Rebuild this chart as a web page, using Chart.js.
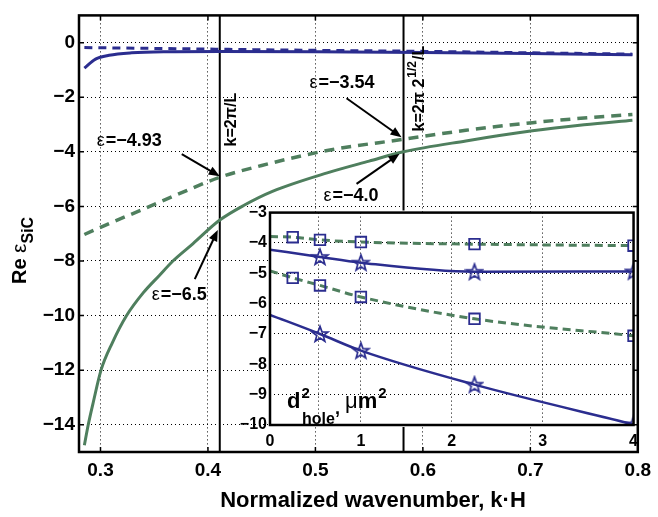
<!DOCTYPE html>
<html>
<head>
<meta charset="utf-8">
<script src="https://cdn.jsdelivr.net/npm/chart.js@4.4.1/dist/chart.umd.min.js"></script>
<style>
  body { margin: 0; background: #fff; }
  #wrap { position: relative; width: 658px; height: 517px; }
  #mainChart { position: absolute; left: 0; top: 0; }
  #insetChart { position: absolute; left: 230px; top: 200px; visibility: hidden; }
</style>
</head>
<body>
<div id="wrap">
  <canvas id="mainChart" width="658" height="517"></canvas>
  <canvas id="insetChart" width="415" height="250"></canvas>
</div>
<script>
// main plot: Re eps_SiC vs normalized wavenumber
const kTicks = [0.3, 0.4, 0.5, 0.6, 0.7, 0.8];
const epsTicks = [0, -2, -4, -6, -8, -10, -12, -14];

const kBlueSolid = [0.285, 0.2954, 0.308, 0.329, 0.36, 0.411, 0.5, 0.6, 0.7, 0.795];
const epsBlueSolid = [-0.93, -0.6, -0.46, -0.37, -0.33, -0.32, -0.33, -0.36, -0.40, -0.44];

const kBlueDashed = [0.285, 0.35, 0.411, 0.5, 0.582, 0.7, 0.795];
const epsBlueDashed = [-0.18, -0.21, -0.24, -0.28, -0.31, -0.37, -0.42];

const kGreenDashed = [0.285, 0.309, 0.34, 0.37, 0.411, 0.45, 0.511, 0.582, 0.64, 0.702, 0.75, 0.795];
const epsGreenDashed = [-7.03, -6.61, -6.1, -5.59, -4.93, -4.5, -3.95, -3.54, -3.21, -2.93, -2.76, -2.63];

const kGreenSolid = [0.285, 0.2886, 0.2935, 0.3005, 0.311, 0.3243, 0.3397, 0.355, 0.3674, 0.3859, 0.411, 0.434, 0.46, 0.511, 0.55, 0.582, 0.64, 0.702, 0.75, 0.795];
const epsGreenSolid = [-14.75, -14.0, -13.14, -12.0, -11.0, -10.0, -9.17, -8.52, -8.0, -7.37, -6.5, -5.95, -5.45, -4.77, -4.34, -4.0, -3.6, -3.23, -3.01, -2.84];

// vertical markers k = 2pi/L and k = 2pi*sqrt(2)/L
const kLines = [0.411, 0.582];

// arrow annotations
const annoK = [0.411, 0.582, 0.582, 0.411];
const annoEps = [-4.93, -3.54, -4.0, -6.5];
const annoText = ['=\u22124.93', '=\u22123.54', '=\u22124.0', '=\u22126.5'];

// inset: eps vs d_hole^2
const insetXTicks = [0, 1, 2, 3, 4];
const insetYTicks = [-3, -4, -5, -6, -7, -8, -9, -10];
const insetExtraGrid = [0.53];

const dStarUpper = [0, 0.55, 1.0, 2.25, 4.0];
const epsStarUpper = [-4.22, -4.46, -4.65, -4.95, -4.94];
const dStarLower = [0, 0.55, 1.0, 2.25, 4.0];
const epsStarLower = [-6.37, -7.0, -7.55, -8.67, -9.98];
const dSqUpper = [0, 0.25, 0.55, 1.0, 2.25, 4.0];
const epsSqUpper = [-3.79, -3.81, -3.9, -3.97, -4.04, -4.09];
const dSqLower = [0, 0.25, 0.55, 1.0, 2.25, 4.0];
const epsSqLower = [-4.92, -5.15, -5.4, -5.78, -6.5, -7.06];

const BLUE = '#2b2d8f';
const GREEN = '#4f7f5e';
const FONT = '"Liberation Sans", Arial, Helvetica, sans-serif';

function pts(xs, ys) { return xs.map((x, i) => ({ x: x, y: ys[i] })); }
function minus(v) { return String(v).replace('-', '\u2212'); }

function drawRich(ctx, x, y, parts) {
  parts.forEach(p => {
    ctx.font = p.font;
    ctx.fillText(p.t, x, y + (p.dy || 0));
    x += ctx.measureText(p.t).width + (p.gap || 0);
  });
}

function drawArrow(ctx, x0, y0, x1, y1) {
  const a = Math.atan2(y1 - y0, x1 - x0);
  const len = 11, w = 4.5;
  ctx.beginPath();
  ctx.moveTo(x0, y0);
  ctx.lineTo(x1 - len * 0.8 * Math.cos(a), y1 - len * 0.8 * Math.sin(a));
  ctx.stroke();
  ctx.beginPath();
  ctx.moveTo(x1, y1);
  ctx.lineTo(x1 - len * Math.cos(a) + w * Math.sin(a), y1 - len * Math.sin(a) - w * Math.cos(a));
  ctx.lineTo(x1 - len * Math.cos(a) - w * Math.sin(a), y1 - len * Math.sin(a) + w * Math.cos(a));
  ctx.closePath();
  ctx.fill();
}

function drawBox(ctx, area, lw) {
  ctx.save();
  ctx.strokeStyle = '#000';
  ctx.lineWidth = lw;
  ctx.strokeRect(area.left, area.top, area.right - area.left, area.bottom - area.top);
  ctx.restore();
}

// ---------- inset chart (rendered first, then painted onto the main canvas) ----------
function starImage() {
  const c = document.createElement('canvas');
  c.width = 20; c.height = 20;
  const g = c.getContext('2d');
  g.strokeStyle = BLUE;
  g.lineWidth = 1.7;
  g.beginPath();
  for (let i = 0; i < 10; i++) {
    const r = i % 2 === 0 ? 8.2 : 3.4;
    const ang = -Math.PI / 2 + i * Math.PI / 5;
    const px = 10 + r * Math.cos(ang), py = 10.6 + r * Math.sin(ang);
    if (i === 0) g.moveTo(px, py); else g.lineTo(px, py);
  }
  g.closePath();
  g.stroke();
  return c;
}
const STAR = starImage();

const insetPlugin = {
  id: 'insetDecor',
  beforeDraw(chart) {
    const { ctx, chartArea: a } = chart;
    ctx.save();
    ctx.fillStyle = '#fff';
    ctx.fillRect(a.left, a.top, a.right - a.left, a.bottom - a.top);
    ctx.restore();
  },
  afterDraw(chart) {
    const { ctx, chartArea: a } = chart;
    drawBox(ctx, a, 2.5);
    ctx.save();
    ctx.fillStyle = '#000';
    ctx.textAlign = 'left';
    ctx.textBaseline = 'alphabetic';
    const x0 = a.left + 17, yb = a.bottom - 17;
    drawRich(ctx, x0, yb, [
      { t: 'd', font: 'bold 22px ' + FONT, gap: 1 },
      { t: '2', font: 'bold 15px ' + FONT, dy: -10 }
    ]);
    drawRich(ctx, x0 + 15, yb + 16, [
      { t: 'hole', font: 'bold 16px ' + FONT },
      { t: ',', font: 'bold 18px ' + FONT, dy: -10 }
    ]);
    drawRich(ctx, x0 + 58, yb, [
      { t: '\u03bc', font: '22px ' + FONT },
      { t: 'm', font: 'bold 22px ' + FONT, gap: 1 },
      { t: '2', font: 'bold 15px ' + FONT, dy: -10 }
    ]);
    ctx.restore();
  }
};

const markerRadius = ctx => (ctx.dataIndex === 0 ? 0 : 7.5);
const insetCanvas = document.getElementById('insetChart');

const insetChart = new Chart(insetCanvas, {
  type: 'line',
  data: {
    datasets: [
      { data: pts(dSqUpper, epsSqUpper), borderColor: GREEN, borderWidth: 3, borderDash: [8, 5],
        pointStyle: 'rect', pointRadius: markerRadius, pointBorderColor: BLUE, pointBorderWidth: 1.8,
        pointBackgroundColor: 'rgba(255,255,255,0)' },
      { data: pts(dSqLower, epsSqLower), borderColor: GREEN, borderWidth: 3, borderDash: [8, 5],
        pointStyle: 'rect', pointRadius: markerRadius, pointBorderColor: BLUE, pointBorderWidth: 1.8,
        pointBackgroundColor: 'rgba(255,255,255,0)' },
      { data: pts(dStarUpper, epsStarUpper), borderColor: BLUE, borderWidth: 2.5,
        pointStyle: STAR, pointRadius: markerRadius },
      { data: pts(dStarLower, epsStarLower), borderColor: BLUE, borderWidth: 2.5,
        pointStyle: STAR, pointRadius: markerRadius }
    ]
  },
  options: {
    responsive: false,
    animation: false,
    devicePixelRatio: 1,
    layout: { padding: { left: 0, right: 10, top: 7, bottom: 0 } },
    elements: { line: { cubicInterpolationMode: 'monotone', fill: false } },
    plugins: { legend: { display: false }, tooltip: { enabled: false } },
    scales: {
      x: {
        type: 'linear', min: 0, max: 4,
        afterBuildTicks: s => { s.ticks = insetXTicks.concat(insetExtraGrid).sort((p, q) => p - q).map(v => ({ value: v })); },
        afterFit: s => { s.height = 25; },
        grid: { color: '#000', lineWidth: 1, drawTicks: false },
        border: { display: false, dash: [1, 3] },
        ticks: { color: '#000', padding: 7, maxRotation: 0, autoSkip: false,
          font: { family: FONT, size: 16, weight: 'bold' },
          callback: v => (insetXTicks.includes(v) ? String(v) : '') }
      },
      y: {
        type: 'linear', min: -10, max: -3,
        afterBuildTicks: s => { s.ticks = insetYTicks.map(v => ({ value: v })); },
        afterFit: s => { s.width = 40; },
        grid: { color: '#000', lineWidth: 1, drawTicks: false },
        border: { display: false, dash: [1, 3] },
        ticks: { color: '#000', padding: 3, font: { family: FONT, size: 16, weight: 'bold' },
          callback: v => minus(v) }
      }
    }
  },
  plugins: [insetPlugin]
});

// page rectangle of the inset plot area
function insetRect() {
  const ia = insetChart.chartArea;
  const ox = insetCanvas.offsetLeft, oy = insetCanvas.offsetTop;
  return { left: ox + ia.left, top: oy + ia.top, right: ox + ia.right, bottom: oy + ia.bottom };
}

// ---------- main chart ----------
// pixel offsets for the arrow tips, tails and labels
const annoLayout = [
  { tip: [0, -1], tail: [-38, -23], text: [-123, -36] },
  { tip: [-2, -2], tail: [-57, -41], text: [-94, -56] },
  { tip: [-4, 2], tail: [-47, 32], text: [-80, 44] },
  { tip: [-2, 10], tail: [-25, 59], text: [-68, 75] }
];

const mainPlugin = {
  id: 'mainDecor',
  beforeDatasetsDraw(chart) {
    const { ctx, chartArea: a, scales: { x } } = chart;
    const r = insetRect();
    ctx.save();
    // keep the marker lines out of the inset panel
    ctx.beginPath();
    ctx.rect(0, 0, chart.width, chart.height);
    ctx.rect(r.left - 2, r.top - 2, r.right - r.left + 4, r.bottom - r.top + 4);
    ctx.clip('evenodd');
    ctx.strokeStyle = '#000';
    ctx.lineWidth = 2;
    kLines.forEach(k => {
      const px = x.getPixelForValue(k);
      ctx.beginPath();
      ctx.moveTo(px, a.top);
      ctx.lineTo(px, a.bottom);
      ctx.stroke();
    });
    ctx.restore();
  },
  afterDraw(chart) {
    const { ctx, chartArea: a, scales: { x, y } } = chart;
    drawBox(ctx, a, 2.5);
    ctx.save();
    ctx.strokeStyle = '#000';
    ctx.lineWidth = 1.5;
    kTicks.forEach(v => {
      const px = x.getPixelForValue(v);
      ctx.beginPath();
      ctx.moveTo(px, a.bottom); ctx.lineTo(px, a.bottom - 5);
      ctx.moveTo(px, a.top); ctx.lineTo(px, a.top + 5);
      ctx.stroke();
    });
    epsTicks.forEach(v => {
      const py = y.getPixelForValue(v);
      ctx.beginPath();
      ctx.moveTo(a.left, py); ctx.lineTo(a.left + 5, py);
      ctx.moveTo(a.right, py); ctx.lineTo(a.right - 5, py);
      ctx.stroke();
    });

    // arrows with epsilon labels
    ctx.fillStyle = '#000';
    ctx.lineWidth = 2;
    ctx.textBaseline = 'middle';
    ctx.textAlign = 'left';
    annoK.forEach((k, i) => {
      const px = x.getPixelForValue(k), py = y.getPixelForValue(annoEps[i]);
      const L = annoLayout[i];
      drawArrow(ctx, px + L.tail[0], py + L.tail[1], px + L.tip[0], py + L.tip[1]);
      drawRich(ctx, px + L.text[0], py + L.text[1], [
        { t: '\u03b5', font: '18px ' + FONT, gap: 1 },
        { t: annoText[i], font: 'bold 18px ' + FONT }
      ]);
    });

    // rotated labels of the vertical lines
    ctx.textBaseline = 'alphabetic';
    const k1 = x.getPixelForValue(kLines[0]);
    ctx.save();
    ctx.translate(k1 + 16, a.top + 131);
    ctx.rotate(-Math.PI / 2);
    drawRich(ctx, 0, 0, [{ t: 'k=2\u03c0/L', font: 'bold 16px ' + FONT }]);
    ctx.restore();
    const k2 = x.getPixelForValue(kLines[1]);
    ctx.save();
    ctx.translate(k2 + 20, a.top + 116);
    ctx.rotate(-Math.PI / 2);
    drawRich(ctx, 0, 0, [
      { t: 'k=2\u03c0 2', font: 'bold 16px ' + FONT, gap: 1 },
      { t: '1/2', font: 'bold 12px ' + FONT, dy: -8, gap: 1 },
      { t: '/L', font: 'bold 16px ' + FONT }
    ]);
    ctx.restore();

    // axis titles
    ctx.save();
    ctx.translate(26, 284);
    ctx.rotate(-Math.PI / 2);
    drawRich(ctx, 0, 0, [
      { t: 'Re ', font: 'bold 20px ' + FONT },
      { t: '\u03b5', font: '21px ' + FONT },
      { t: 'SiC', font: 'bold 16px ' + FONT, dy: 7 }
    ]);
    ctx.restore();
    ctx.textAlign = 'center';
    ctx.font = 'bold 22px ' + FONT;
    ctx.fillText('Normalized wavenumber, k\u00b7H', 373, 507);
    ctx.restore();

    // paint the inset panel on top, over a blank backing of its plot area
    const r = insetRect();
    ctx.save();
    ctx.fillStyle = '#fff';
    ctx.fillRect(r.left, r.top, r.right - r.left, r.bottom - r.top);
    ctx.restore();
    ctx.drawImage(insetCanvas, insetCanvas.offsetLeft, insetCanvas.offsetTop);
  }
};

new Chart(document.getElementById('mainChart'), {
  type: 'line',
  data: {
    datasets: [
      { data: pts(kBlueDashed, epsBlueDashed), borderColor: BLUE, borderWidth: 3, borderDash: [8, 6] },
      { data: pts(kBlueSolid, epsBlueSolid), borderColor: BLUE, borderWidth: 3 },
      { data: pts(kGreenDashed, epsGreenDashed), borderColor: GREEN, borderWidth: 3.5, borderDash: [10, 7] },
      { data: pts(kGreenSolid, epsGreenSolid), borderColor: GREEN, borderWidth: 3 }
    ]
  },
  options: {
    responsive: false,
    animation: false,
    devicePixelRatio: 1,
    layout: { padding: { left: 0, right: 14, top: 7, bottom: 0 } },
    elements: { point: { radius: 0 }, line: { cubicInterpolationMode: 'monotone', fill: false } },
    plugins: { legend: { display: false }, tooltip: { enabled: false } },
    scales: {
      x: {
        type: 'linear', min: 0.28, max: 0.8,
        afterBuildTicks: s => { s.ticks = kTicks.map(v => ({ value: v })); },
        afterFit: s => { s.height = 65; },
        grid: { color: '#000', lineWidth: 1, drawTicks: false },
        border: { display: false, dash: [1, 3] },
        ticks: { color: '#000', padding: 7, font: { family: FONT, size: 19, weight: 'bold' },
          callback: v => v.toFixed(1) }
      },
      y: {
        type: 'linear', min: -15, max: 1,
        afterBuildTicks: s => { s.ticks = epsTicks.map(v => ({ value: v })); },
        afterFit: s => { s.width = 79; },
        grid: { color: '#000', lineWidth: 1, drawTicks: false },
        border: { display: false, dash: [1, 3] },
        ticks: { color: '#000', padding: 4, font: { family: FONT, size: 19, weight: 'bold' },
          callback: v => minus(v) }
      }
    }
  },
  plugins: [mainPlugin]
});
</script>
</body>
</html>
